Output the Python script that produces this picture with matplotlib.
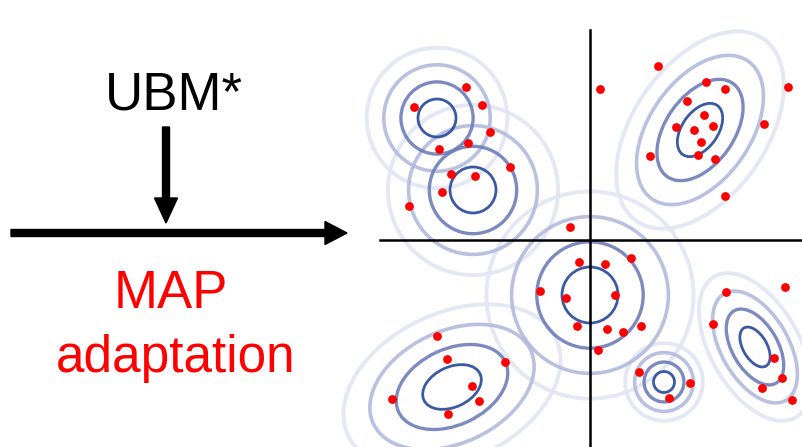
import numpy as np
import matplotlib.pyplot as plt
from matplotlib.patches import Ellipse

plt.rcParams['font.family'] = ['Liberation Sans', 'DejaVu Sans']

# gaussian components: centre, semi-axes of inner contour, rotation (pixel space)
comp_x = [437, 473, 700, 590, 452, 664, 755]
comp_y = [118, 190, 130, 295, 387, 382, 347]
comp_a = [19, 23, 30, 28, 31, 10.5, 22]
comp_b = [19, 23, 18, 28, 20, 10.5, 12]
comp_angle = [0, 0, -55, 0, -25, 0, 60]
ring_scale = [1, 1.9, 2.8, 3.7]
ring_color = ['#27479a', '#6f7db9', '#b3badd', '#e2e5f3']
ring_lw = [2.0, 2.4, 2.6, 2.8]

# adapted data points
pts_x = [466, 414, 482, 490, 468, 439, 510, 451, 475, 442, 409, 570,
         600, 658, 706, 725, 788, 687, 704, 676, 694, 713, 701, 764, 650, 698, 715, 725,
         579, 605, 631, 540, 566, 615, 577, 607, 623, 641, 598,
         437, 447, 505, 472, 392, 479, 448,
         726, 785, 713, 639, 690, 669, 774, 782, 762, 792]
pts_y = [87, 107, 105, 132, 143, 149, 167, 174, 176, 192, 206, 227,
         89, 66, 82, 89, 87, 101, 115, 127, 130, 126, 142, 124, 156, 155, 159, 196,
         262, 264, 258, 291, 298, 295, 326, 329, 332, 326, 350,
         336, 359, 362, 386, 399, 401, 414,
         292, 287, 324, 372, 383, 398, 358, 378, 388, 400]

fig = plt.figure(figsize=(8.02, 4.47), dpi=100)
ax = fig.add_axes([0, 0, 1, 1])
ax.set_xlim(0, 802)
ax.set_ylim(447, 0)
ax.axis('off')

for k in range(len(ring_scale) - 1, -1, -1):
    for i in range(len(comp_x)):
        e = Ellipse((comp_x[i], comp_y[i]), 2 * comp_a[i] * ring_scale[k], 2 * comp_b[i] * ring_scale[k],
                    angle=comp_angle[i], fill=False, edgecolor=ring_color[k], lw=ring_lw[k], alpha=0.9)
        ax.add_patch(e)

ax.plot([590, 590], [30, 447], color='black', lw=1.8)
ax.plot([380, 802], [240, 240], color='black', lw=1.8)

ax.scatter(pts_x, pts_y, s=40, color='#ff0000', zorder=5, linewidths=0)

# left side: UBM feeding MAP adaptation
ax.arrow(11, 233, 336, 0, width=7, head_width=23, head_length=22,
         length_includes_head=True, color='black')
ax.arrow(166, 127, 0, 96, width=7, head_width=23, head_length=25,
         length_includes_head=True, color='black')
ax.text(174, 110, 'UBM*', fontsize=38, ha='center', va='baseline', color='black')
ax.text(171, 308, 'MAP', fontsize=38, ha='center', va='baseline', color='#ff0000')
ax.text(176, 372, 'adaptation', fontsize=37, ha='center', va='baseline', color='#ff0000')

fig.savefig('out.png', dpi=100)
